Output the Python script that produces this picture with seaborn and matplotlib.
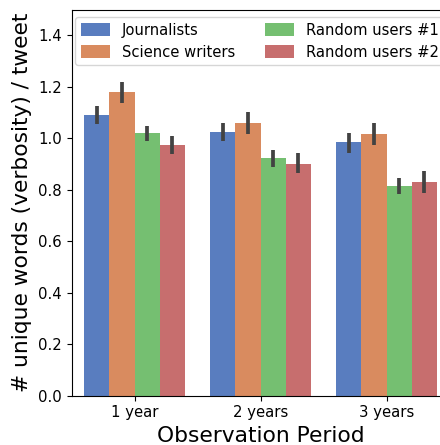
import matplotlib
matplotlib.use("Agg")
import matplotlib.pyplot as plt
import seaborn as sns
import pandas as pd

periods = ["1 year", "2 years", "3 years"]
groups = ["Journalists", "Science writers", "Random users #1", "Random users #2"]

journalists = [1.090, 1.024, 0.985]
science_writers = [1.179, 1.058, 1.016]
random_users_1 = [1.020, 0.923, 0.814]
random_users_2 = [0.973, 0.900, 0.830]

journalists_lo = [1.054, 0.990, 0.943]
journalists_hi = [1.126, 1.058, 1.022]
science_writers_lo = [1.135, 1.015, 0.974]
science_writers_hi = [1.218, 1.100, 1.057]
random_users_1_lo = [0.990, 0.889, 0.784]
random_users_1_hi = [1.048, 0.954, 0.846]
random_users_2_lo = [0.937, 0.863, 0.787]
random_users_2_hi = [1.007, 0.941, 0.872]

means = [journalists, science_writers, random_users_1, random_users_2]
lows = [journalists_lo, science_writers_lo, random_users_1_lo, random_users_2_lo]
highs = [journalists_hi, science_writers_hi, random_users_1_hi, random_users_2_hi]

rows = []
for g, vals in zip(groups, means):
    for p, v in zip(periods, vals):
        rows.append({"period": p, "group": g, "value": v})
df = pd.DataFrame(rows)

plt.rcParams["font.family"] = ["DejaVu Sans"]
fig = plt.figure(figsize=(4.40, 4.45), dpi=100)
ax_left, ax_right, ax_top, ax_bottom = 71.5, 449.5, 9.5, 395.5
ax = fig.add_axes([ax_left / 440, (445 - ax_bottom) / 445,
                   (ax_right - ax_left) / 440, (ax_bottom - ax_top) / 445])

sns.barplot(data=df, x="period", y="value", hue="group", palette="muted",
            errorbar=None, ax=ax, order=periods, hue_order=groups, width=0.8)

for cont, lo, hi in zip(ax.containers, lows, highs):
    for bar, l, h in zip(cont, lo, hi):
        xc = bar.get_x() + bar.get_width() / 2
        ax.plot([xc, xc], [l, h], color=".26", lw=2.7, solid_capstyle="butt", zorder=3)

ax.set_ylim(0, 1.5)
ax.set_xlim(-0.5, 2.5)
ax.set_yticks([0.0, 0.2, 0.4, 0.6, 0.8, 1.0, 1.2, 1.4])
ax.set_xlabel("Observation Period", fontsize=15.7)
ax.set_ylabel("# unique words (verbosity) / tweet", fontsize=15.7)
ax.tick_params(labelsize=10.7)
ax.legend(ncol=2, loc="upper left", fontsize=10.6, title=None, borderaxespad=0,
          handleheight=1.0, labelspacing=0.45,
          bbox_to_anchor=((75 - ax_left) / (ax_right - ax_left),
                          1 - (17 - ax_top) / (ax_bottom - ax_top)))

fig.savefig("out.png", dpi=100)
